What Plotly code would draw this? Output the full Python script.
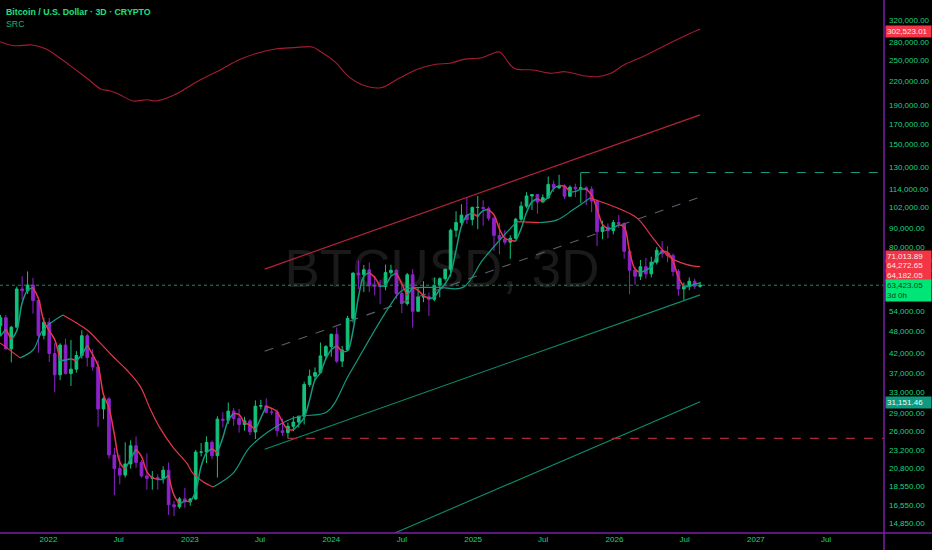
import pandas as pd
import plotly.graph_objects as go

# --- price data (2-week candles, values in thousands of USD) ---
bar_dates = pd.date_range("2021-08-30", periods=130, freq="14D")
first_open_k = 49.5
close_k = [52.0, 43.0, 49.1, 62.0, 61.3, 63.5, 57.8, 46.7, 50.6, 41.8,
           36.7, 44.0, 37.0, 38.0, 41.3, 46.6, 40.8, 38.5, 29.8, 31.7,
           22.5, 20.7, 19.9, 21.3, 23.8, 21.5, 19.8, 19.5, 19.6, 19.5,
           20.5, 16.6, 16.4, 17.2, 16.9, 17.2, 22.9, 22.9, 24.3, 22.4,
           28.0, 27.8, 29.4, 28.1, 27.1, 27.7, 25.9, 30.3, 30.4, 29.2,
           29.2, 26.1, 25.8, 26.8, 27.5, 28.5, 34.6, 36.4, 37.2, 41.2,
           43.6, 47.0, 39.9, 42.7, 51.8, 68.3, 67.6, 69.7, 63.4, 63.1,
           62.9, 68.5, 69.5, 60.3, 56.7, 67.6, 54.1, 59.1, 59.1, 58.2,
           63.3, 66.0, 69.9, 88.7, 93.0, 97.3, 94.7, 102.0, 102.0, 101.4,
           95.5, 86.0, 84.0, 82.5, 84.5, 94.9, 102.8, 109.4, 110.3, 105.4,
           108.2, 117.4, 115.0, 116.2, 109.2, 115.4, 114.3, 115.0, 114.0, 106.0,
           88.0, 90.5, 88.5, 93.0, 92.5, 78.0, 69.5, 67.0, 71.0, 68.0,
           73.0, 78.5, 77.0, 76.0, 69.0, 62.0, 63.0, 65.0, 63.0, 63.423]
high_k = [52.9, 52.9, 49.5, 62.9, 67.0, 69.0, 66.3, 59.0, 52.0, 51.9,
          44.5, 44.5, 45.8, 45.4, 42.4, 48.2, 47.2, 42.9, 40.0, 32.0,
          32.0, 23.5, 22.5, 24.3, 24.6, 25.2, 21.8, 22.7, 20.4, 20.0,
          21.0, 21.5, 17.0, 17.4, 18.4, 17.3, 23.2, 24.2, 25.2, 24.6,
          28.5, 29.2, 31.0, 30.0, 29.8, 28.4, 28.0, 31.4, 31.5, 31.8,
          30.0, 29.7, 28.1, 27.4, 28.5, 28.6, 35.2, 37.9, 38.4, 44.7,
          44.0, 47.2, 49.0, 43.8, 52.6, 68.6, 73.8, 71.8, 72.8, 67.2,
          65.5, 71.9, 71.9, 70.0, 63.8, 68.4, 70.0, 62.7, 65.0, 60.6,
          66.5, 66.5, 70.2, 89.6, 99.6, 104.0, 108.3, 102.5, 109.4, 106.5,
          102.5, 96.5, 92.8, 88.8, 86.0, 95.7, 105.7, 111.9, 110.4, 110.6,
          110.5, 123.2, 120.2, 124.5, 117.5, 116.7, 117.9, 126.2, 116.0, 116.0,
          107.0, 94.0, 92.5, 94.5, 97.5, 93.0, 79.0, 71.0, 74.0, 75.0,
          75.5, 80.0, 83.0, 80.5, 77.0, 70.0, 64.5, 66.5, 66.0, 64.8]
low_k = [46.4, 42.9, 39.6, 49.0, 58.0, 60.1, 53.3, 42.0, 45.6, 39.7,
         33.0, 35.5, 36.8, 34.3, 37.2, 40.5, 38.6, 37.6, 26.7, 28.0,
         22.0, 17.6, 18.8, 19.6, 20.7, 20.8, 19.6, 18.2, 18.2, 18.2,
         18.9, 15.6, 15.5, 16.2, 16.3, 16.5, 17.1, 22.3, 21.4, 21.9,
         19.6, 26.6, 27.2, 26.9, 25.8, 26.1, 25.4, 24.8, 29.7, 29.0,
         28.7, 25.2, 25.3, 24.9, 26.0, 26.6, 27.1, 34.1, 35.6, 37.6,
         40.3, 41.0, 39.5, 38.5, 42.5, 50.5, 62.0, 60.8, 60.8, 59.6,
         56.5, 61.5, 67.2, 58.4, 53.5, 56.0, 49.0, 54.0, 57.2, 52.6,
         57.5, 58.9, 65.2, 66.8, 85.1, 90.8, 92.2, 91.4, 89.3, 91.2,
         94.1, 78.2, 76.6, 81.2, 74.5, 83.9, 93.4, 101.4, 100.4, 98.2,
         105.1, 107.4, 112.0, 114.2, 107.3, 110.0, 108.6, 104.7, 103.5, 99.0,
         80.6, 84.0, 84.5, 86.5, 90.0, 74.5, 60.0, 63.5, 65.5, 66.0,
         66.5, 72.0, 75.0, 73.0, 67.0, 59.5, 58.0, 61.5, 62.0, 62.5]
open_k = [first_open_k] + close_k[:-1]

# fast moving average, read at the candle dates
fast_ma_k = [46.5, 48.5, 45.5, 48.0, 57.0, 61.5, 62.5, 58.5, 51.0, 48.0,
             45.5, 40.0, 40.2, 40.5, 40.0, 41.5, 44.0, 41.5, 38.8, 32.5,
             30.0, 25.5, 21.5, 20.6, 22.0, 23.3, 22.3, 20.3, 19.6, 19.4,
             19.4, 19.9, 17.6, 16.7, 17.0, 16.9, 18.0, 21.0, 22.8, 23.4,
             22.8, 25.0, 27.8, 29.0, 28.8, 27.4, 27.0, 26.2, 28.2, 30.3,
             29.9, 29.3, 27.5, 26.3, 26.2, 27.1, 28.3, 31.5, 35.6, 37.2,
             40.5, 42.8, 43.8, 42.3, 42.5, 48.0, 59.0, 67.0, 68.5, 66.5,
             63.0, 63.5, 67.0, 68.3, 64.0, 59.5, 62.5, 61.5, 59.5, 58.5,
             59.0, 61.8, 64.0, 68.0, 78.5, 91.0, 97.0, 98.5, 96.5, 100.0,
             100.5, 97.5, 89.5, 84.5, 83.5, 83.0, 89.5, 99.0, 105.5, 107.5,
             105.8, 108.5, 114.5, 116.5, 116.0, 112.0, 112.5, 114.0, 114.0, 110.0,
             101.0, 92.0, 89.5, 90.0, 91.8, 90.5, 78.0, 70.0, 68.5, 69.5,
             71.0, 75.5, 78.0, 77.5, 73.5, 66.5, 62.8, 63.0, 63.8, 64.27]

# slow moving average
slow_ma_dates = ["2021-08-29", "2021-10-20", "2021-11-22", "2021-12-18", "2022-02-07",
                 "2022-04-10", "2022-05-14", "2022-06-16", "2022-07-22", "2022-08-25",
                 "2022-09-20", "2022-10-16", "2022-11-18", "2022-12-24", "2023-01-09",
                 "2023-02-04", "2023-03-02", "2023-04-22", "2023-06-05", "2023-08-29",
                 "2023-10-12", "2023-12-21", "2024-02-18", "2024-06-01", "2024-07-04",
                 "2024-09-30", "2024-12-06", "2025-01-26", "2025-03-11", "2025-04-24",
                 "2025-06-23", "2025-08-06", "2025-09-16", "2025-10-30", "2026-01-15",
                 "2026-02-28", "2026-04-10", "2026-05-24", "2026-07-07", "2026-08-10"]
slow_ma_k = [44.6, 40.7, 42.7, 48.3, 52.9, 48.3, 44.6, 41.1, 37.8, 34.3,
             29.9, 26.5, 23.6, 21.4, 20.1, 19.1, 18.5, 20.1, 23.6, 27.4,
             28.5, 29.3, 37.1, 56.1, 61.6, 62.6, 62.6, 74.0, 83.6, 93.5,
             93.0, 94.5, 100.5, 108.0, 101.0, 95.7, 84.7, 75.2, 71.9, 71.014]

# SRC line
src_dates = ["2021-08-29", "2021-10-04", "2021-11-19", "2021-12-26", "2022-01-31",
             "2022-03-05", "2022-04-10", "2022-05-16", "2022-06-08", "2022-07-02",
             "2022-08-07", "2022-09-12", "2022-10-05", "2022-11-21", "2023-01-19",
             "2023-03-20", "2023-05-08", "2023-06-23", "2023-08-09", "2023-09-27",
             "2023-11-13", "2023-12-05", "2024-01-10", "2024-02-15", "2024-03-22",
             "2024-05-08", "2024-06-24", "2024-08-12", "2024-09-27", "2024-11-02",
             "2024-12-08", "2025-01-24", "2025-03-01", "2025-03-12", "2025-04-17",
             "2025-06-05", "2025-07-21", "2025-08-26", "2025-10-12", "2025-11-17",
             "2025-12-23", "2026-01-25", "2026-03-15", "2026-05-14", "2026-06-19",
             "2026-08-04", "2026-08-10"]
src_k = [280.6, 273.8, 275.0, 268.4, 253.5, 239.4, 224.4, 210.2, 208.0, 203.5,
         195.4, 196.9, 195.4, 202.6, 219.8, 236.1, 251.3, 261.5, 268.4, 270.5,
         271.6, 263.9, 248.3, 226.6, 215.4, 211.8, 224.4, 237.5, 244.4, 245.9,
         251.9, 254.4, 263.0, 263.0, 238.5, 236.1, 231.3, 233.6, 228.0, 226.6,
         231.3, 243.4, 256.0, 275.0, 286.4, 301.3, 302.523]

# trend channel and levels
chan_dates = ["2023-07-13", "2026-08-10"]
chan_upper_k = [70.0, 179.4]
chan_mid_k = [42.4, 108.7]
chan_lower_k = [23.3, 59.8]
outer_dates = ["2024-06-13", "2026-08-10"]
outer_lower_k = [13.97, 31.15146]
support_date, support_k = "2023-09-11", 24.9
top_date, top_k = "2025-10-06", 126.2
last_price_k = 63.42305

# axes
x_range = ["2021-08-28 19:00", "2027-11-27 17:00"]
x_tick_dates = ["2022-01-01", "2022-07-01", "2023-01-01", "2023-07-01", "2024-01-01", "2024-07-01",
                "2025-01-01", "2025-07-01", "2026-01-01", "2026-07-01", "2027-01-01", "2027-07-01"]
x_tick_text = ["2022", "Jul", "2023", "Jul", "2024", "Jul", "2025", "Jul", "2026", "Jul", "2027", "Jul"]
y_ticks = [360000, 320000, 280000, 250000, 220000, 190000, 170000, 150000, 130000, 114000,
           102000, 90000, 80000, 54000, 48000, 42000, 37000, 33000, 29000, 26000,
           23200, 20800, 18550, 16550, 14850]

GREEN_TXT = "#19d67c"
UP = "#12c27b"
DOWN = "#8e22cc"
MA_RED = "#e8364a"
MA_TEAL = "#149a80"
FONT = "Liberation Sans"
far_end = "2028-12-31"


def k(vals):
    return [v * 1000 for v in vals]


def add_trend_line(fig, x, y, width):
    # red while falling, teal while rising
    runs = []
    start = 0
    for i in range(1, len(y) - 1):
        if (y[i + 1] >= y[i]) != (y[i] >= y[i - 1]):
            runs.append((start, i))
            start = i
    runs.append((start, len(y) - 1))
    for a, b in runs:
        col = MA_TEAL if y[b] >= y[a] else MA_RED
        fig.add_trace(go.Scatter(x=list(x[a:b + 1]), y=y[a:b + 1], mode="lines",
                                 line=dict(color=col, width=width, shape="spline"),
                                 hoverinfo="skip"))


fig = go.Figure()

fig.add_trace(go.Scatter(x=src_dates, y=k(src_k), mode="lines",
                         line=dict(color="#a51c32", width=1.1, shape="spline")))

fig.add_trace(go.Scatter(x=chan_dates, y=k(chan_upper_k), mode="lines",
                         line=dict(color="#b3243a", width=1.2)))
fig.add_trace(go.Scatter(x=chan_dates, y=k(chan_mid_k), mode="lines",
                         line=dict(color="#5a5e6c", width=1.1, dash="dash")))
fig.add_trace(go.Scatter(x=chan_dates, y=k(chan_lower_k), mode="lines",
                         line=dict(color="#0e8c6e", width=1.1)))
fig.add_trace(go.Scatter(x=outer_dates, y=k(outer_lower_k), mode="lines",
                         line=dict(color="#0e8c6e", width=1.1)))

fig.add_trace(go.Scatter(x=[support_date, far_end], y=k([support_k, support_k]), mode="lines",
                         line=dict(color="#a8283c", width=1.1, dash="dash")))
fig.add_trace(go.Scatter(x=[top_date, far_end], y=k([top_k, top_k]), mode="lines",
                         line=dict(color="#1a9c86", width=1, dash="dash")))
fig.add_trace(go.Scatter(x=[x_range[0], far_end], y=k([last_price_k, last_price_k]), mode="lines",
                         line=dict(color="#178f55", width=1, dash="dot")))

fig.add_trace(go.Candlestick(
    x=bar_dates, open=k(open_k), high=k(high_k), low=k(low_k), close=k(close_k),
    increasing=dict(line=dict(color=UP, width=1), fillcolor=UP),
    decreasing=dict(line=dict(color=DOWN, width=1), fillcolor=DOWN),
    whiskerwidth=0))

add_trend_line(fig, pd.to_datetime(slow_ma_dates), k(slow_ma_k), 1.2)
add_trend_line(fig, bar_dates, k(fast_ma_k), 1.5)

# price scale labels
labels = [
    ("302,523.01", 31.3, "#f23645", "#ffe6ea"),
    ("71,013.89", 256.0, "#f23645", "#ffe6ea"),
    ("64,272.65", 265.5, "#f23645", "#ffe6ea"),
    ("64,182.05", 275.3, "#f23645", "#ffe6ea"),
    ("63,423.05<br>3d 0h", 290.5, "#00e676", "#0b3d22"),
    ("31,151.46", 402.3, "#0e9a80", "#e8fff8"),
]
for txt, py, bg, fg in labels:
    fig.add_annotation(x=1, y=1 - py / 533, xref="paper", yref="paper", xanchor="left",
                       yanchor="middle", text=txt, showarrow=False, bgcolor=bg,
                       font=dict(family=FONT, size=8, color=fg), align="left",
                       borderpad=1, width=43, xshift=1)

fig.add_annotation(x=0, y=1, xref="paper", yref="paper", xanchor="left", yanchor="top",
                   text="<b>Bitcoin / U.S. Dollar · 3D · CRYPTO</b>", showarrow=False,
                   xshift=4, yshift=-5, font=dict(family=FONT, size=8.8, color="#1fe07f"))
fig.add_annotation(x=0, y=1, xref="paper", yref="paper", xanchor="left", yanchor="top",
                   text="SRC", showarrow=False, xshift=4, yshift=-17,
                   font=dict(family=FONT, size=8.8, color="#17b46c"))

# watermark, pane borders
fig.add_shape(type="rect", xref="paper", yref="paper", x0=0.30, x1=0.70, y0=0.40, y1=0.61,
              line=dict(width=0), fillcolor="rgba(0,0,0,0)", layer="below",
              label=dict(text="BTCUSD, 3D", font=dict(family="Liberation Sans", size=53, color="#1a1a1a"),
                         textposition="middle center"))
fig.add_shape(type="line", xref="paper", yref="paper", x0=1, x1=1, y0=-17 / 533, y1=1,
              line=dict(color="#7a1fa8", width=1.5))
fig.add_shape(type="line", xref="paper", yref="paper", x0=0, x1=932 / 884, y0=0, y1=0,
              line=dict(color="#7a1fa8", width=1.5))

fig.update_layout(
    width=932, height=550,
    margin=dict(l=0, r=48, t=0, b=17),
    paper_bgcolor="#000000", plot_bgcolor="#000000",
    showlegend=False, hovermode=False,
    xaxis=dict(range=x_range, rangeslider=dict(visible=False), showgrid=False, zeroline=False,
               tickvals=x_tick_dates, ticktext=x_tick_text, ticks="",
               tickfont=dict(family=FONT, size=8, color=GREEN_TXT)),
    yaxis=dict(type="log", side="right", range=[4.14525, 5.55858], showgrid=False, zeroline=False,
               tickvals=y_ticks, tickformat=",.2f", ticks="", ticklabelstandoff=4,
               tickfont=dict(family=FONT, size=8, color=GREEN_TXT)),
)

# page body margin would shift the chart by 8px
fig.write_html("out.html", config={"displayModeBar": False},
               post_script="document.body.style.margin='0';"
                           "document.body.style.background='#000';")
